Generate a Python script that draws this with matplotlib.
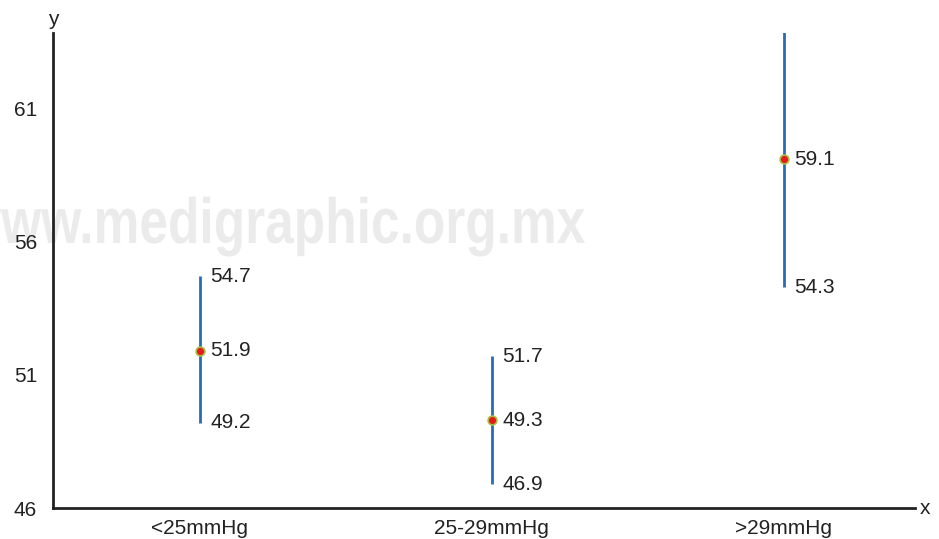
import matplotlib
matplotlib.use("Agg")
import matplotlib.pyplot as plt
from matplotlib.font_manager import FontProperties
from matplotlib.patches import PathPatch
from matplotlib.textpath import TextPath
from matplotlib.transforms import Affine2D

plt.rcParams["font.family"] = ["Liberation Sans", "DejaVu Sans"]

# Values
categories = ["<25mmHg", "25-29mmHg", ">29mmHg"]
means = [51.9, 49.3, 59.1]
lower = [49.2, 46.9, 54.3]
upper = [54.7, 51.7, 63.9]
yticks = [46, 51, 56, 61]

LINE = "#2a6cb0"
TXT = "#222222"

fig = plt.figure(figsize=(9.39, 5.39), dpi=100)
ax = fig.add_axes([0.0564, 0.0575, 0.918, 0.8813])

# watermark: condensed bold text, drawn as a path in figure inches
wm = TextPath((0, 0), "www.medigraphic.org.mx", size=1,
              prop=FontProperties(family="Liberation Sans", weight="bold"))
ext = wm.get_extents()
sx = 6.24 / ext.width
wm_tr = Affine2D().translate(-ext.x0, 0).scale(sx, 0.64).translate(-0.39, 2.96)
fig.patches.append(PathPatch(wm, transform=wm_tr + fig.dpi_scale_trans,
                             facecolor="#ebebeb", edgecolor="none", zorder=0))
ax.set_zorder(1)
ax.patch.set_alpha(0)

xs = list(range(len(categories)))
ax.vlines(xs, lower, upper, color=LINE, lw=2, zorder=2)
ax.scatter(xs, means, s=40, color="#e8191c", edgecolors="#a8c040",
           linewidths=1.2, zorder=3)

for x, m, lo, hi in zip(xs, means, lower, upper):
    for v in (hi, m, lo):
        ax.annotate(f"{v:.1f}", (x, v), xytext=(7.5, 0), textcoords="offset points",
                    ha="left", va="center", fontsize=15, color=TXT)

ax.set_xlim(-0.503, 2.449)
ax.set_ylim(46, 63.85)
ax.set_xticks(xs)
ax.set_xticklabels(categories, fontsize=15, color=TXT)
ax.set_yticks(yticks)
ax.set_yticklabels([str(t) for t in yticks], fontsize=15, color=TXT)
ax.tick_params(axis="x", length=0, pad=8)
ax.tick_params(axis="y", length=0, pad=11.5)

for s in ("top", "right"):
    ax.spines[s].set_visible(False)
for s in ("left", "bottom"):
    ax.spines[s].set_linewidth(2)
    ax.spines[s].set_color(TXT)

ax.text(0.0, 1.008, "y", transform=ax.transAxes, ha="center", va="bottom",
        fontsize=15, color=TXT)
ax.text(1.006, 0.0, "x", transform=ax.transAxes, ha="left", va="center",
        fontsize=15, color=TXT)

fig.savefig("out.png", dpi=100)
